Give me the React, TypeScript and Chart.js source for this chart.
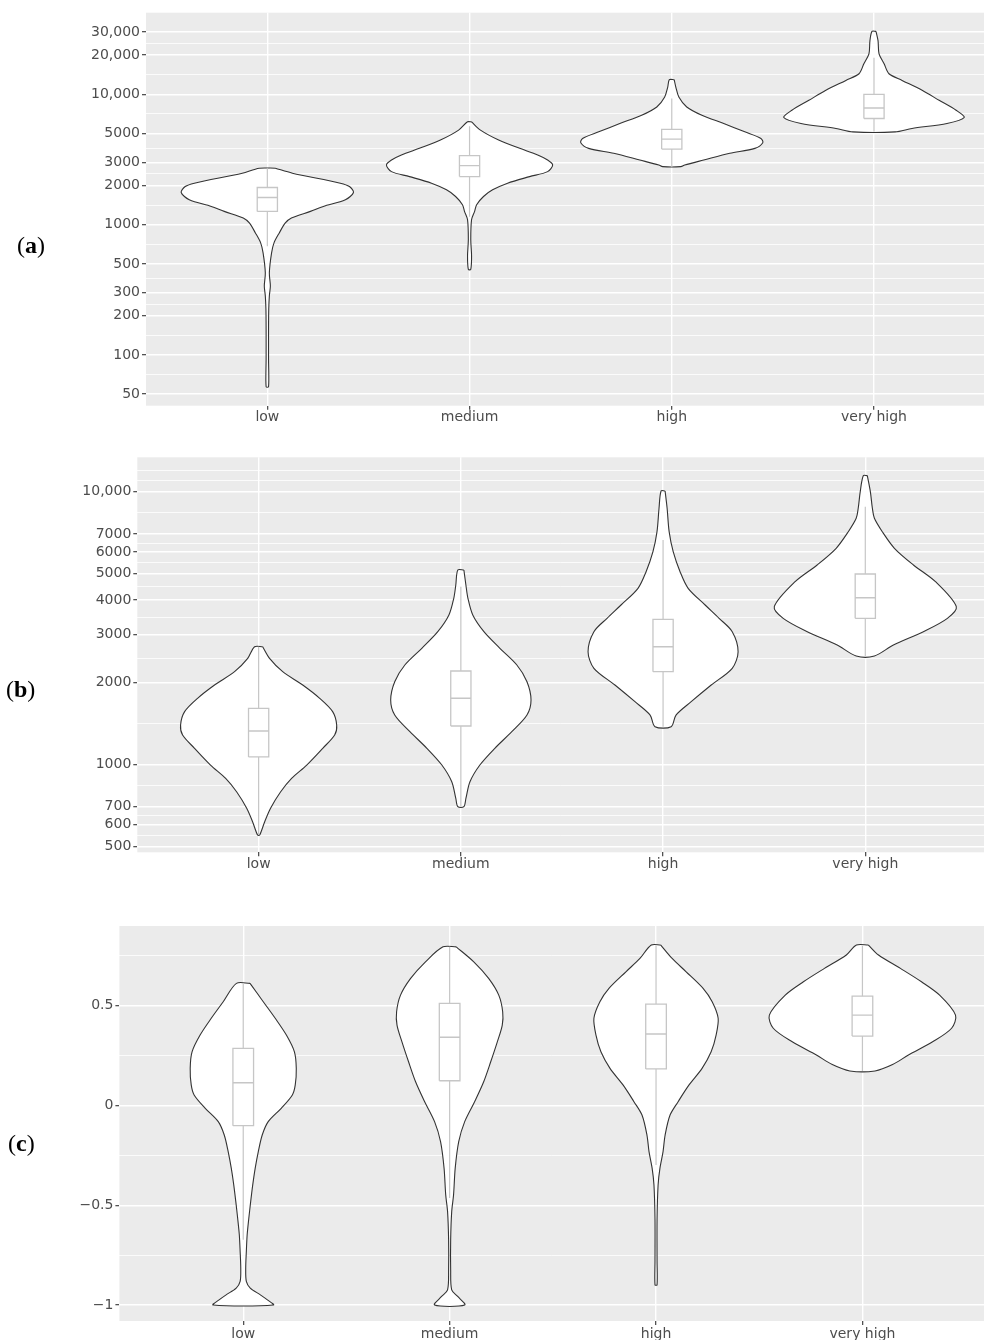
import React, { useEffect, useRef } from 'react';
import { Chart, registerables } from 'chart.js';

Chart.register(...registerables);

const categories = ['low', 'medium', 'high', 'very high'];

// ---------- Panel (a) ----------
const aLowVal = [2710, 2483, 2081, 1961, 1765, 1552, 1380, 1264, 1125, 1030, 864, 725, 608, 428, 338, 284, 225, 158, 93, 57];
const aLowHalf = [0.040, 0.124, 0.361, 0.406, 0.426, 0.386, 0.277, 0.213, 0.119, 0.089, 0.059, 0.033, 0.021, 0.010, 0.015, 0.010, 0.007, 0.006, 0.006, 0.006];
const aMedVal = [6150, 5310, 4457, 3849, 3423, 3133, 2870, 2552, 2337, 2081, 1849, 1644, 1421, 1264, 1092, 768, 573, 453];
const aMedHalf = [0.010, 0.054, 0.144, 0.248, 0.337, 0.386, 0.411, 0.386, 0.297, 0.188, 0.114, 0.069, 0.035, 0.025, 0.010, 0.006, 0.010, 0.006];
const aHighVal = [12950, 11370, 9537, 8000, 6911, 5975, 5152, 4589, 4249, 3849, 3526, 3133, 2870, 2786];
const aHighHalf = [0.012, 0.020, 0.035, 0.074, 0.149, 0.257, 0.361, 0.441, 0.450, 0.411, 0.287, 0.158, 0.064, 0.045];
const aVHighVal = [30420, 25830, 20460, 17150, 14390, 12790, 10730, 9000, 7549, 6640, 5975, 5473, 5152];
const aVHighHalf = [0.010, 0.020, 0.025, 0.050, 0.074, 0.139, 0.238, 0.322, 0.406, 0.446, 0.361, 0.188, 0.104];
const aQ1 = [1264, 2337, 3802, 6524];
const aMedian = [1615, 2836, 4534, 7855];
const aQ3 = [1927, 3381, 5377, 10000];
const aWhiskerLow = [683, 1150, 2786, 5152];
const aWhiskerHigh = [2710, 5700, 9270, 19050];
const aMajorTicks = [50, 100, 200, 300, 500, 1000, 2000, 3000, 5000, 10000, 20000, 30000];
const aTickLabels = ['50', '100', '200', '300', '500', '1000', '2000', '3000', '5000', '10,000', '20,000', '30,000'];
const aExtraMinor: number[] = [];

// ---------- Panel (b) ----------
const bLowVal = [2700, 2448, 2187, 1954, 1746, 1560, 1394, 1281, 1145, 994, 888, 793, 690, 616, 550];
const bLowHalf = [0.020, 0.054, 0.119, 0.218, 0.302, 0.366, 0.386, 0.376, 0.317, 0.238, 0.163, 0.109, 0.059, 0.030, 0.005];
const bMedVal = [5161, 4547, 4064, 3529, 3065, 2664, 2313, 2009, 1721, 1516, 1317, 1145, 994, 863, 750, 699];
const bMedHalf = [0.015, 0.025, 0.035, 0.059, 0.114, 0.193, 0.277, 0.327, 0.347, 0.327, 0.252, 0.168, 0.094, 0.045, 0.025, 0.015];
const bHighVal = [10060, 8692, 7133, 6026, 5088, 4422, 3840, 3431, 3065, 2589, 2250, 1954, 1697, 1516, 1374];
const bHighHalf = [0.010, 0.020, 0.030, 0.050, 0.084, 0.124, 0.208, 0.277, 0.342, 0.371, 0.342, 0.238, 0.139, 0.064, 0.040];
const bVHighVal = [11450, 10000, 8692, 7987, 7133, 6201, 5385, 4676, 3786, 3431, 3065, 2739, 2496];
const bVHighHalf = [0.010, 0.025, 0.035, 0.045, 0.084, 0.144, 0.238, 0.347, 0.450, 0.406, 0.287, 0.139, 0.045];
const bQ1 = [1064, 1382, 2187, 3431];
const bMedian = [1325, 1747, 2700, 4084];
const bQ3 = [1605, 2199, 3404, 4990];
const bWhiskerLow = [550, 699, 1374, 2496];
const bWhiskerHigh = [2700, 4483, 6650, 8810];
const bMajorTicks = [500, 600, 700, 1000, 2000, 3000, 4000, 5000, 6000, 7000, 10000];
const bTickLabels = ['500', '600', '700', '1000', '2000', '3000', '4000', '5000', '6000', '7000', '10,000'];
const bExtraMinor = [10954, 12000];

// ---------- Panel (c) ----------
const cLowVal = [0.612, 0.520, 0.437, 0.353, 0.269, 0.186, 0.103, 0.053, -0.014, -0.081, -0.148, -0.231, -0.314, -0.398, -0.482, -0.565, -0.648, -0.732, -0.815, -0.882, -0.915, -0.949, -0.974, -1.0];
const cLowHalf = [0.033, 0.097, 0.155, 0.209, 0.248, 0.257, 0.252, 0.238, 0.184, 0.121, 0.092, 0.073, 0.058, 0.046, 0.036, 0.027, 0.019, 0.015, 0.012, 0.015, 0.034, 0.083, 0.117, 0.146];
const cMedVal = [0.795, 0.720, 0.637, 0.553, 0.470, 0.403, 0.319, 0.219, 0.119, 0.019, -0.081, -0.181, -0.314, -0.448, -0.532, -0.673, -0.824, -0.924, -0.957, -1.0];
const cMedHalf = [0.032, 0.117, 0.189, 0.238, 0.257, 0.255, 0.231, 0.199, 0.165, 0.121, 0.073, 0.044, 0.027, 0.019, 0.010, 0.005, 0.005, 0.010, 0.039, 0.073];
const cHighVal = [0.804, 0.737, 0.670, 0.587, 0.520, 0.437, 0.353, 0.269, 0.186, 0.103, 0.019, -0.048, -0.148, -0.231, -0.314, -0.398, -0.573, -0.774, -0.899];
const cHighHalf = [0.023, 0.078, 0.146, 0.228, 0.272, 0.301, 0.291, 0.267, 0.223, 0.160, 0.107, 0.068, 0.044, 0.034, 0.019, 0.010, 0.005, 0.005, 0.005];
const cVHighVal = [0.804, 0.754, 0.687, 0.620, 0.553, 0.453, 0.387, 0.319, 0.253, 0.205, 0.173];
const cVHighHalf = [0.029, 0.078, 0.184, 0.286, 0.374, 0.451, 0.432, 0.340, 0.223, 0.146, 0.061];
const cQ1 = [-0.101, 0.124, 0.183, 0.348];
const cMedian = [0.114, 0.342, 0.358, 0.453];
const cQ3 = [0.286, 0.512, 0.508, 0.548];
const cWhiskerLow = [-0.673, -0.463, -0.298, 0.173];
const cWhiskerHigh = [0.612, 0.795, 0.80, 0.80];
const cMajorTicks = [-1, -0.5, 0, 0.5];
const cTickLabels = ['\u22121', '\u22120.5', '0', '0.5'];
const cMinorTicks = [-0.75, -0.25, 0.25, 0.75];

// ---------- Styling ----------
const BOX_HALF = 0.05;
const OUTLINE = '#333333';
const BOX_COLOR = '#c6c6c6';
const PANEL_BG = '#ebebeb';
const TEXT_COLOR = '#4d4d4d';
const FONT = 'DejaVu Sans';

type Violin = { vals: number[]; half: number[] };
type Panel = {
  key: string;
  label: string;
  violins: Violin[];
  q1: number[]; med: number[]; q3: number[]; wLo: number[]; wHi: number[];
  yType: 'logarithmic' | 'linear';
  yMin: number; yMax: number;
  majors: number[]; labels: string[]; minors: number[];
  xMax: number;
  offset: number; height: number; padTop: number; axisLeft: number; areaBottom: number;
  xPad: number;
  labelLeft: number; labelTop: number;
};

function geoMinors(majors: number[]): number[] {
  const out: number[] = [];
  for (let i = 0; i < majors.length - 1; i++) out.push(Math.sqrt(majors[i] * majors[i + 1]));
  return out;
}

const panels: Panel[] = [
  {
    key: 'a', label: 'a',
    violins: [
      { vals: aLowVal, half: aLowHalf },
      { vals: aMedVal, half: aMedHalf },
      { vals: aHighVal, half: aHighHalf },
      { vals: aVHighVal, half: aVHighHalf },
    ],
    q1: aQ1, med: aMedian, q3: aQ3, wLo: aWhiskerLow, wHi: aWhiskerHigh,
    yType: 'logarithmic', yMin: 40.8, yMax: 42300,
    majors: aMajorTicks, labels: aTickLabels, minors: [...geoMinors(aMajorTicks), ...aExtraMinor],
    xMax: 4.544,
    offset: 0, height: 440, padTop: 12.7, axisLeft: 146, areaBottom: 405.7, xPad: -1,
    labelLeft: 17, labelTop: 231,
  },
  {
    key: 'b', label: 'b',
    violins: [
      { vals: bLowVal, half: bLowHalf },
      { vals: bMedVal, half: bMedHalf },
      { vals: bHighVal, half: bHighHalf },
      { vals: bVHighVal, half: bVHighHalf },
    ],
    q1: bQ1, med: bMedian, q3: bQ3, wLo: bWhiskerLow, wHi: bWhiskerHigh,
    yType: 'logarithmic', yMin: 475.6, yMax: 13370,
    majors: bMajorTicks, labels: bTickLabels, minors: [...geoMinors(bMajorTicks), ...bExtraMinor],
    xMax: 4.587,
    offset: 440, height: 450, padTop: 17.3, axisLeft: 137.3, areaBottom: 412.3, xPad: 0,
    labelLeft: 6, labelTop: 675,
  },
  {
    key: 'c', label: 'c',
    violins: [
      { vals: cLowVal, half: cLowHalf },
      { vals: cMedVal, half: cMedHalf },
      { vals: cHighVal, half: cHighHalf },
      { vals: cVHighVal, half: cVHighHalf },
    ],
    q1: cQ1, med: cMedian, q3: cQ3, wLo: cWhiskerLow, wHi: cWhiskerHigh,
    yType: 'linear', yMin: -1.08, yMax: 0.8995,
    majors: cMajorTicks, labels: cTickLabels, minors: cMinorTicks,
    xMax: 4.589,
    offset: 890, height: 450, padTop: 36, axisLeft: 119.4, areaBottom: 431, xPad: 1,
    labelLeft: 8, labelTop: 1129,
  },
];

function violinPoints(c: number, v: Violin) {
  const pts: { x: number; y: number }[] = [];
  for (let i = 0; i < v.vals.length; i++) pts.push({ x: c + v.half[i], y: v.vals[i] });
  for (let i = v.vals.length - 1; i >= 0; i--) pts.push({ x: c - v.half[i], y: v.vals[i] });
  pts.push({ x: c + v.half[0], y: v.vals[0] });
  return pts;
}

const bgPlugin = {
  id: 'panelBackground',
  beforeDraw(chart: any) {
    const { ctx, chartArea } = chart;
    if (!chartArea) return;
    ctx.save();
    ctx.fillStyle = PANEL_BG;
    ctx.fillRect(chartArea.left, chartArea.top, chartArea.right - chartArea.left, chartArea.bottom - chartArea.top);
    ctx.restore();
  },
};

function buildConfig(p: Panel): any {
  const datasets: any[] = [];
  categories.forEach((_, i) => {
    const c = i + 1;
    datasets.push({
      data: violinPoints(c, p.violins[i]),
      borderColor: OUTLINE, borderWidth: 1.1, backgroundColor: '#ffffff',
      fill: 'shape', pointRadius: 0, tension: 0.3, borderJoinStyle: 'round', order: 3,
    });
    datasets.push({
      data: [{ x: c, y: p.wLo[i] }, { x: c, y: p.wHi[i] }],
      borderColor: BOX_COLOR, borderWidth: 1.2, fill: false, pointRadius: 0, order: 2,
    });
    datasets.push({
      data: [
        { x: c - BOX_HALF, y: p.q1[i] }, { x: c + BOX_HALF, y: p.q1[i] },
        { x: c + BOX_HALF, y: p.q3[i] }, { x: c - BOX_HALF, y: p.q3[i] },
        { x: c - BOX_HALF, y: p.q1[i] },
      ],
      borderColor: BOX_COLOR, borderWidth: 1.3, backgroundColor: '#ffffff',
      fill: 'shape', pointRadius: 0, order: 1,
    });
    datasets.push({
      data: [{ x: c - BOX_HALF, y: p.med[i] }, { x: c + BOX_HALF, y: p.med[i] }],
      borderColor: BOX_COLOR, borderWidth: 1.4, fill: false, pointRadius: 0, order: 0,
    });
  });

  const allTicks = [...p.majors, ...p.minors].sort((a, b) => a - b);
  const isMajor = (v: number) => p.majors.some((m) => Math.abs(m - v) < 1e-9 * Math.max(1, Math.abs(m)));

  return {
    type: 'line',
    data: { datasets },
    plugins: [bgPlugin],
    options: {
      responsive: false,
      animation: false,
      devicePixelRatio: 1,
      events: [],
      layout: { padding: { top: p.padTop, left: 0, right: 0, bottom: 0 } },
      plugins: { legend: { display: false }, tooltip: { enabled: false } },
      scales: {
        x: {
          type: 'linear',
          min: 0.4,
          max: p.xMax,
          afterBuildTicks: (s: any) => { s.ticks = [1, 2, 3, 4].map((v) => ({ value: v })); },
          afterFit: (s: any) => { s.height = p.height - p.areaBottom; },
          ticks: {
            callback: (v: any) => categories[Math.round(Number(v)) - 1] ?? '',
            font: { family: FONT, size: 14 },
            color: TEXT_COLOR,
            padding: p.xPad,
            autoSkip: false,
            maxRotation: 0,
          },
          grid: { color: '#ffffff', lineWidth: 1.4, tickColor: OUTLINE, tickLength: 4, tickWidth: 1.1 },
          border: { display: false },
        },
        y: {
          type: p.yType,
          min: p.yMin,
          max: p.yMax,
          afterBuildTicks: (s: any) => { s.ticks = allTicks.map((v) => ({ value: v })); },
          afterFit: (s: any) => { s.width = p.axisLeft; },
          ticks: {
            callback: (v: any) => {
              const idx = p.majors.findIndex((m) => Math.abs(m - Number(v)) < 1e-9 * Math.max(1, Math.abs(m)));
              return idx >= 0 ? p.labels[idx] : '';
            },
            font: { family: FONT, size: 14 },
            color: TEXT_COLOR,
            padding: 2,
            autoSkip: false,
          },
          grid: {
            color: '#ffffff',
            lineWidth: (ctx: any) => (ctx.tick && isMajor(ctx.tick.value) ? 1.4 : 0.8),
            tickColor: (ctx: any) => (ctx.tick && isMajor(ctx.tick.value) ? OUTLINE : 'rgba(0,0,0,0)'),
            tickWidth: 1.1,
            tickLength: 4,
          },
          border: { display: false },
        },
      },
    },
  };
}

function PanelChart({ panel }: { panel: Panel }) {
  const ref = useRef<HTMLCanvasElement | null>(null);
  useEffect(() => {
    if (!ref.current) return;
    const chart = new Chart(ref.current, buildConfig(panel));
    return () => chart.destroy();
  }, [panel]);
  return (
    <canvas
      ref={ref}
      width={984}
      height={panel.height}
      style={{ position: 'absolute', left: 0, top: panel.offset, width: 984, height: panel.height }}
    />
  );
}

export default function App() {
  return (
    <div style={{ position: 'absolute', left: 0, top: 0, width: 984, height: 1340, background: '#ffffff', overflow: 'hidden' }}>
      {panels.map((p) => (
        <React.Fragment key={p.key}>
          <PanelChart panel={p} />
          <div
            style={{
              position: 'absolute', left: p.labelLeft, top: p.labelTop,
              fontFamily: '"Liberation Serif", "DejaVu Serif", serif', fontSize: 24, lineHeight: '28px', color: '#000',
            }}
          >
            (<b>{p.label}</b>)
          </div>
        </React.Fragment>
      ))}
    </div>
  );
}
